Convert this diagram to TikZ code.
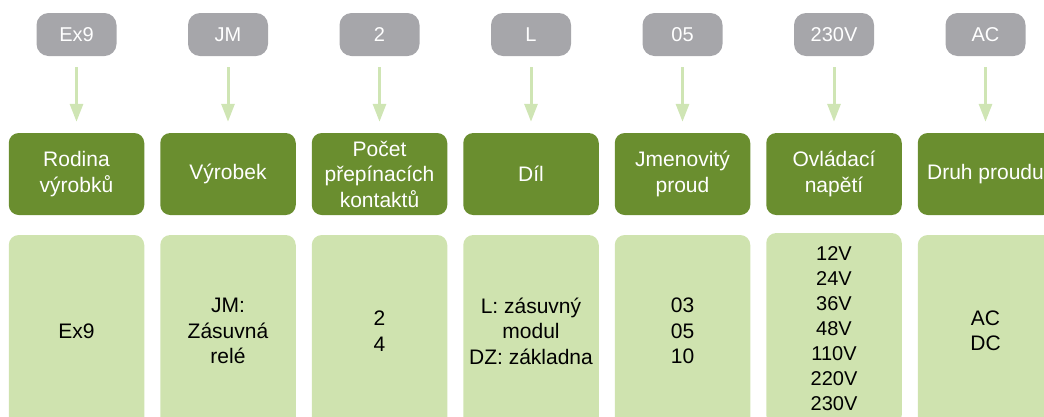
\documentclass[tikz,border=0pt]{standalone}
\usepackage{fontspec}
\setmainfont{Liberation Sans}
\usetikzlibrary{arrows.meta}
\definecolor{greybox}{RGB}{166,166,170}
\definecolor{darkgreen}{RGB}{106,142,47}
\definecolor{lightgreen}{RGB}{207,227,175}
\definecolor{arrowgreen}{RGB}{207,229,180}
\begin{document}
\begin{tikzpicture}[x=1pt,y=-1pt,
  codebox/.style={fill=greybox, draw=none, rounded corners=12pt, minimum width=80pt, minimum height=43pt, inner sep=0pt, text=white, font=\fontsize{20}{25}\selectfont},
  headbox/.style={fill=darkgreen, draw=none, rounded corners=10pt, minimum width=135.5pt, minimum height=82pt, inner sep=0pt, text=white, align=center, font=\fontsize{21}{25.5}\selectfont},
  valbox/.style={fill=lightgreen, draw=none, rounded corners=10pt, minimum width=135.5pt, minimum height=192pt, inner sep=0pt, text=black, align=center, font=\fontsize{21}{25.5}\selectfont},
  pointer/.style={draw=arrowgreen, line width=3pt, -{Triangle[length=18pt,width=13pt]}, shorten <=11pt, shorten >=11pt}
]
\useasboundingbox (0,0) rectangle (1044,416);
\clip (0,0) rectangle (1044,416);

\node[codebox] (c1) at (76.5,34.5) {Ex9};
\node[codebox] (c2) at (228,34.5) {JM};
\node[codebox] (c3) at (379.5,34.5) {2};
\node[codebox] (c4) at (531,34.5) {L};
\node[codebox] (c5) at (682.5,34.5) {05};
\node[codebox] (c6) at (834,34.5) {230V};
\node[codebox] (c7) at (985.5,34.5) {AC};

\node[headbox] (h1) at (76.5,174) {Rodina\\výrobků};
\node[headbox] (h2) at (228,174) {Výrobek};
\node[headbox] (h3) at (379.5,174) {Počet\\přepínacích\\kontaktů};
\node[headbox] (h4) at (531,174) {Díl};
\node[headbox] (h5) at (682.5,174) {Jmenovitý\\proud};
\node[headbox] (h6) at (834,174) {Ovládací\\napětí};
\node[headbox] (h7) at (985.5,174) {Druh proudu};

\node[valbox] (v1) at (76.5,331) {Ex9};
\node[valbox] (v2) at (228,331) {JM:\\Zásuvná\\relé};
\node[valbox] (v3) at (379.5,331) {2\\4};
\node[valbox] (v4) at (531,331) {L: zásuvný\\modul\\DZ: základna};
\node[valbox] (v5) at (682.5,331) {03\\05\\10};
\node[valbox, font=\fontsize{20}{25}\selectfont] (v6) at (834,329) {12V\\24V\\36V\\48V\\110V\\220V\\230V};
\node[valbox] (v7) at (985.5,331) {AC\\DC};

\foreach \k in {1,...,7} {
  \draw[pointer] (c\k) -- (h\k);
}
\end{tikzpicture}
\end{document}
